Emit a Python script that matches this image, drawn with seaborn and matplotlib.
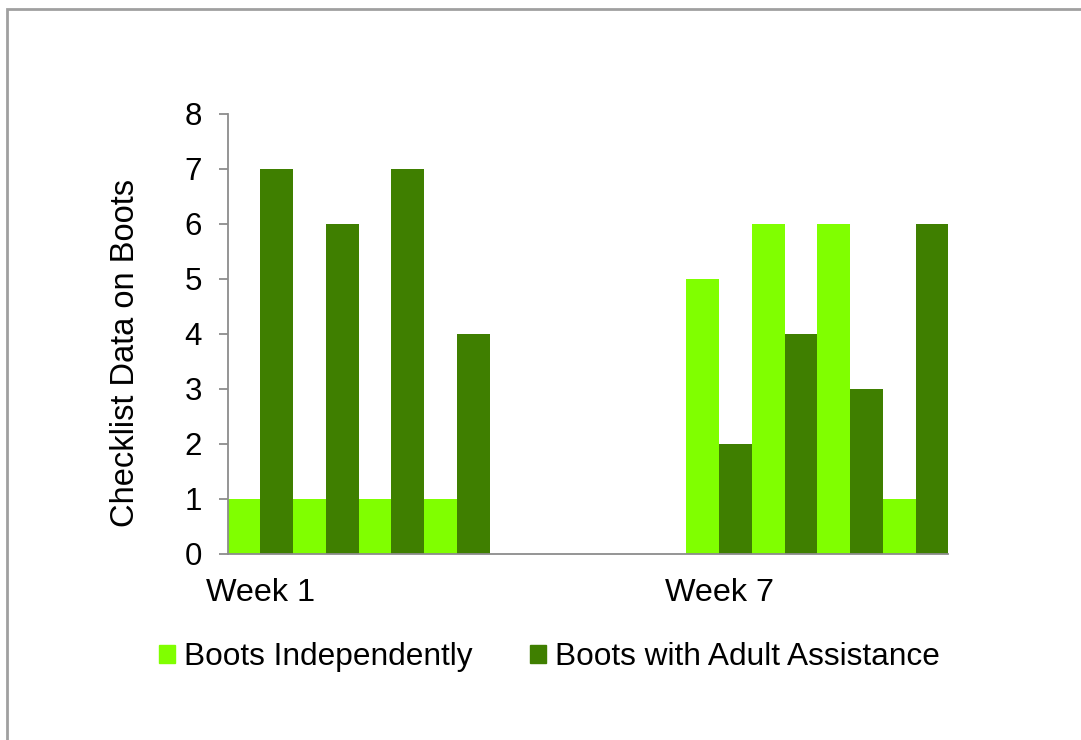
import pandas as pd
import matplotlib.pyplot as plt
import seaborn as sns
from matplotlib.patches import Rectangle

# Checklist counts per day slot (Week 1 and Week 7, with empty slots between)
week1_independent = [1, 1, 1, 1]
week1_adult = [7, 6, 7, 4]
week7_independent = [5, 6, 6, 1]
week7_adult = [2, 4, 3, 6]

x_labels = ["Week 1", "", "", "", "", "", "", "Week 7", "", "", ""]
series = ["Boots Independently", "Boots with Adult Assistance"]
colors = ["#80FF00", "#3F7F00"]

slots = [str(i) for i in range(len(x_labels))]
week1_slots = slots[0:4]
week7_slots = slots[7:11]

rows = []
for s, a, b in zip(week1_slots, week1_independent, week1_adult):
    rows.append((s, series[0], a))
    rows.append((s, series[1], b))
for s, a, b in zip(week7_slots, week7_independent, week7_adult):
    rows.append((s, series[0], a))
    rows.append((s, series[1], b))
datos = pd.DataFrame(rows, columns=["slot", "serie", "valor"])

sns.set_style("white")
plt.rcParams["font.family"] = ["Liberation Sans", "DejaVu Sans"]
plt.rcParams["text.color"] = "black"
plt.rcParams["axes.labelcolor"] = "black"

fig = plt.figure(figsize=(10.81, 7.40), dpi=100)
ax = fig.add_axes([0.2106, 0.2514, 0.6667, 0.5946])

sns.barplot(data=datos, x="slot", y="valor", hue="serie", order=slots,
            hue_order=series, palette=dict(zip(series, colors)),
            saturation=1, width=1.0, errorbar=None, linewidth=0, ax=ax)

ax.set_xlim(-0.5, len(slots) - 0.5)
ax.set_ylim(0, 8)
ax.set_yticks(range(0, 9))
tick_pos = [i for i, lab in enumerate(x_labels) if lab]
ax.set_xticks(tick_pos)
ax.set_xticklabels([x_labels[i] for i in tick_pos])
ax.set_xlabel("")
ax.set_ylabel("Checklist Data on Boots", fontsize=23.5, color="black")
ax.yaxis.set_label_coords(-0.12, 0.457)

for side in ["top", "right"]:
    ax.spines[side].set_visible(False)
for side in ["left", "bottom"]:
    ax.spines[side].set_color("#8c8c8c")
    ax.spines[side].set_linewidth(1.3)

ax.tick_params(axis="y", length=6.5, width=1.3, color="#8c8c8c", pad=12,
               labelsize=22.5, labelcolor="black", direction="out", left=True)
ax.tick_params(axis="x", length=0, pad=17, labelsize=23.3, labelcolor="black")

ax.legend_.remove()
handles = [Rectangle((0, 0), 1, 1, color=c) for c in colors]
fig.legend(handles, series, loc="center", bbox_to_anchor=(0.5083, 0.1122),
           ncol=2, frameon=False, fontsize=22.8, handlelength=0.5,
           handleheight=0.5, handletextpad=0.3, columnspacing=1.8,
           labelcolor="black")

# outer chart frame
fig.patches.append(Rectangle((7.5 / 1081, -0.1), 1.2, 1.1 - 8.5 / 740,
                             transform=fig.transFigure, fill=False,
                             edgecolor="#a0a0a0", linewidth=2))

plt.savefig("out.png", dpi=100)
plt.close()
